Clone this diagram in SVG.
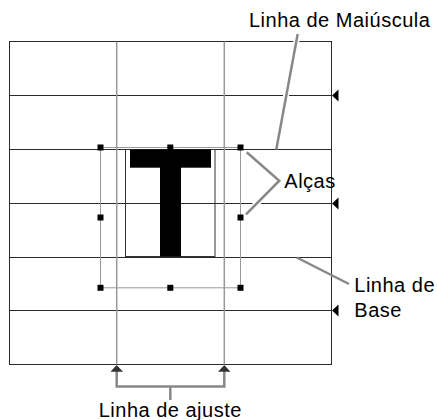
<svg xmlns="http://www.w3.org/2000/svg" width="437" height="420" viewBox="0 0 437 420">
<style>
.grid{stroke:#2a2a2a;stroke-width:1;fill:none}
.fit{stroke:#999;stroke-width:1.5;fill:none}
.hbox{stroke:#999;stroke-width:1;fill:none}
.lbox{stroke:#333;stroke-width:1;fill:none}
.halo{stroke:#fff;stroke-width:6;fill:none}
.lead{stroke:#888;stroke-width:2.5;fill:none}
.handle{fill:#000}
.tri{fill:#000}
text{font-family:"Liberation Sans",Arial,sans-serif;font-size:20px;letter-spacing:0.5px;fill:#000}
</style>
<rect width="437" height="420" fill="#fff"/>
<g id="grid">
<rect class="grid" x="9.5" y="41.5" width="322" height="323"/>
<line class="grid" x1="9.5" y1="95.5" x2="331.5" y2="95.5"/>
<line class="grid" x1="9.5" y1="149.5" x2="331.5" y2="149.5"/>
<line class="grid" x1="9.5" y1="203.5" x2="331.5" y2="203.5"/>
<line class="grid" x1="9.5" y1="257.5" x2="331.5" y2="257.5"/>
<line class="grid" x1="9.5" y1="310.5" x2="331.5" y2="310.5"/>
<line class="fit" x1="116.7" y1="41.5" x2="116.7" y2="364.5"/>
<line class="fit" x1="224.3" y1="41.5" x2="224.3" y2="364.5"/>
<polygon class="tri" points="332,95.5 338.5,89.5 338.5,101.5"/>
<polygon class="tri" points="332,203.5 338.5,197.5 338.5,209.5"/>
<polygon class="tri" points="332,310.5 338.5,304.5 338.5,316.5"/>
</g>
<g id="glyph">
<rect class="lbox" x="125.5" y="149.5" width="89.5" height="107"/>
<rect x="130" y="149.5" width="81" height="18.2" fill="#000"/>
<rect x="160" y="149.5" width="21" height="107" fill="#000"/>
</g>
<g id="handles">
<rect class="hbox" x="100.5" y="147.5" width="140" height="140.3"/>
<rect class="handle" x="97.5" y="144.5" width="6" height="6"/>
<rect class="handle" x="167.3" y="144.5" width="6" height="6"/>
<rect class="handle" x="237.5" y="144.5" width="6" height="6"/>
<rect class="handle" x="97.5" y="214.5" width="6" height="6"/>
<rect class="handle" x="237.5" y="214.5" width="6" height="6"/>
<rect class="handle" x="97.5" y="284.8" width="6" height="6"/>
<rect class="handle" x="167.3" y="284.8" width="6" height="6"/>
<rect class="handle" x="237.5" y="284.8" width="6" height="6"/>
</g>
<g id="connectors">
<line class="halo" x1="297.7" y1="34" x2="276.3" y2="147"/>
<line class="lead" x1="297.7" y1="34" x2="276.3" y2="149.5"/>
<polyline class="halo" points="246.7,152.3 279.3,180.7 246,214.3"/>
<polyline class="lead" points="246.7,152.3 279.3,180.7 246,214.3"/>
<line class="lead" x1="296.7" y1="257.5" x2="349" y2="284"/>
<polyline class="lead" points="116.7,369 116.7,386.5 224.3,386.5 224.3,369"/>
<line class="lead" x1="170.3" y1="386.5" x2="170.3" y2="400"/>
<polygon fill="#333" points="116.7,365 110.5,371.7 123,371.7"/>
<polygon fill="#333" points="224.3,365 218,371.7 230.5,371.7"/>
</g>
<g id="labels">
<text x="249" y="26.7">Linha de Maiúscula</text>
<text x="284.3" y="187.8">Alças</text>
<text x="354.3" y="291.7">Linha de</text>
<text x="354.3" y="316.7">Base</text>
<text x="170.3" y="417" text-anchor="middle">Linha de ajuste</text>
</g>
</svg>
